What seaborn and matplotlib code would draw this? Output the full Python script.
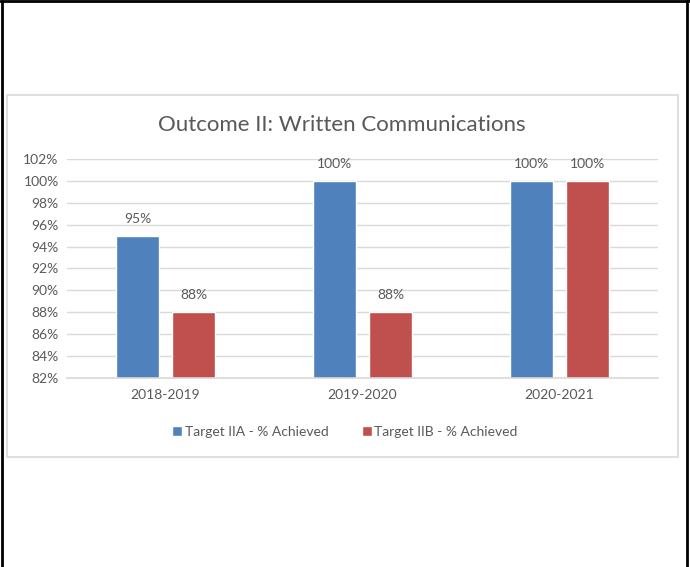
import matplotlib
matplotlib.use("Agg")
import matplotlib.pyplot as plt
import seaborn as sns
import pandas as pd
from matplotlib.patches import Rectangle
from matplotlib.lines import Line2D
from matplotlib.ticker import FuncFormatter

years = ["2018-2019", "2019-2020", "2020-2021"]
series_names = ["Target IIA - % Achieved", "Target IIB - % Achieved"]
target_iia = [0.95, 1.00, 1.00]
target_iib = [0.88, 0.88, 1.00]
colors = ["#4F81BD", "#C0504D"]

df = pd.DataFrame({
    "year": years * 2,
    "series": [series_names[0]] * 3 + [series_names[1]] * 3,
    "value": target_iia + target_iib,
})

sns.set_theme(style="white")
plt.rcParams["font.family"] = ["Lato", "DejaVu Sans"]
txt = "#595959"

W, H = 690, 567
fig = plt.figure(figsize=(W / 100, H / 100), dpi=100)
fig.patch.set_facecolor("white")

# chart frame
fig.add_artist(Rectangle((7 / W, 1 - 457 / H), (678 - 7) / W, (457 - 95) / H,
                         transform=fig.transFigure, facecolor="white",
                         edgecolor="#D9D9D9", linewidth=1.2, zorder=0))
# page border
for (x0, y0, x1, y1) in [(1.5, 0.5, 1.5, H), (0, 0.8, W, 0.8), (687, 0, 687, H)]:
    fig.add_artist(Line2D([x0 / W, x1 / W], [1 - y0 / H, 1 - y1 / H],
                          transform=fig.transFigure, color="black", linewidth=2))

ax = fig.add_axes([67 / W, 1 - 378 / H, (658 - 67) / W, (378 - 159) / H])
ax.set_facecolor("none")
sns.barplot(data=df, x="year", y="value", hue="series", palette=colors,
            width=0.568, gap=0.215, ax=ax, saturation=1, legend=True)

ax.set_ylim(0.82, 1.02)
ax.set_xlim(-0.5, 2.5)
ax.set_yticks([0.82 + 0.02 * i for i in range(11)])
ax.yaxis.set_major_formatter(FuncFormatter(lambda v, p: f"{v * 100:.0f}%"))
ax.grid(axis="y", color="#D9D9D9", linewidth=1)
ax.set_axisbelow(True)
for s in ["top", "right", "left"]:
    ax.spines[s].set_visible(False)
ax.spines["bottom"].set_color("#D9D9D9")
ax.spines["bottom"].set_linewidth(1.2)
ax.tick_params(axis="both", length=0, labelsize=10, colors=txt, pad=6)
ax.tick_params(axis="x", pad=8)
ax.set_xlabel("")
ax.set_ylabel("")

for cont in ax.containers:
    ax.bar_label(cont, labels=[f"{v * 100:.0f}%" for v in cont.datavalues],
                 padding=8, fontsize=10, color=txt)

fig.text(342 / W, 1 - 125 / H, "Outcome II: Written Communications",
         fontsize=16, color=txt, ha="center", va="center")

handles, labels = ax.get_legend_handles_labels()
ax.get_legend().remove()
leg = fig.legend(handles, labels, loc="center", bbox_to_anchor=(345 / W, 1 - 432 / H),
                 ncol=2, frameon=False, fontsize=10, handlelength=0.7,
                 handleheight=0.7, handletextpad=0.2, columnspacing=2.4)
for t in leg.get_texts():
    t.set_color(txt)

fig.savefig("out.png", dpi=100, facecolor="white")
